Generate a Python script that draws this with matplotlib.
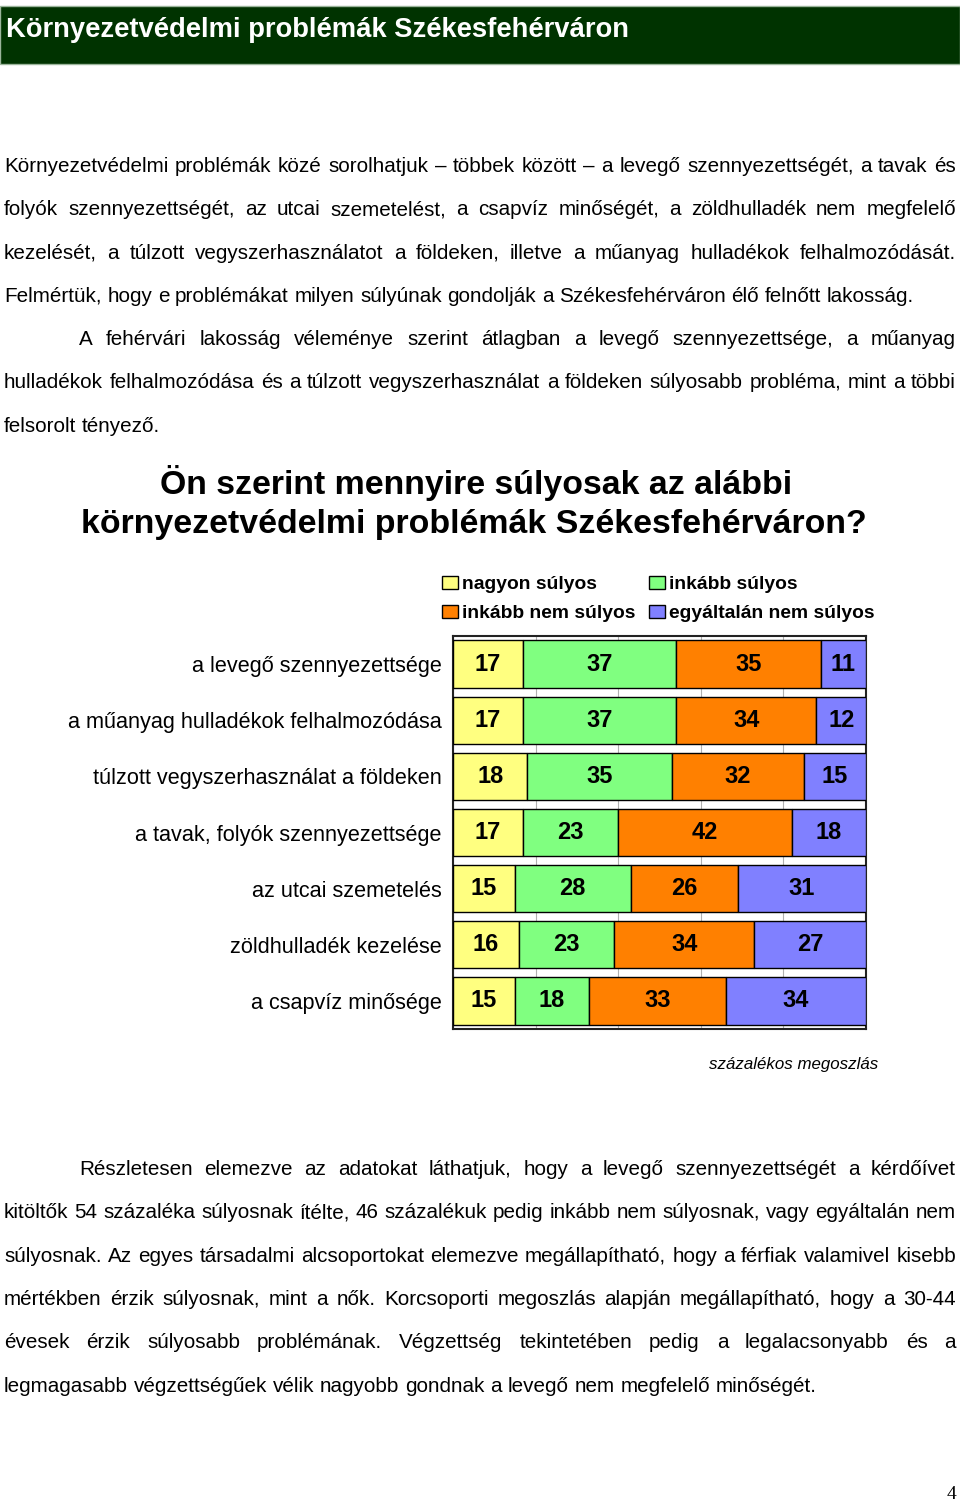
import matplotlib
matplotlib.use('Agg')
import matplotlib.pyplot as plt
from matplotlib import font_manager
from matplotlib.patches import Rectangle, Patch

W, H = 960, 1503

# chart data (percent)
cats = ['a levegő szennyezettsége',
        'a műanyag hulladékok felhalmozódása',
        'túlzott vegyszerhasználat a földeken',
        'a tavak, folyók szennyezettsége',
        'az utcai szemetelés',
        'zöldhulladék kezelése',
        'a csapvíz minősége']
nagyon = [17, 17, 18, 17, 15, 16, 15]
inkabb = [37, 37, 35, 23, 28, 23, 18]
inkabb_nem = [35, 34, 32, 42, 26, 34, 33]
egyaltalan = [11, 12, 15, 18, 31, 27, 34]
series_names = ['nagyon súlyos', 'inkább súlyos', 'inkább nem súlyos', 'egyáltalán nem súlyos']
colors = ['#FFFF80', '#80FF80', '#FF8000', '#8080FF']

header = 'Környezetvédelmi problémák Székesfehérváron'
chart_title = ['Ön szerint mennyire súlyosak az alábbi',
               'környezetvédelmi problémák Székesfehérváron?']

par1 = ['Környezetvédelmi problémák közé sorolhatjuk – többek között – a levegő szennyezettségét, a tavak és',
        'folyók szennyezettségét, az utcai szemetelést, a csapvíz minőségét, a zöldhulladék nem megfelelő',
        'kezelését, a túlzott vegyszerhasználatot a földeken, illetve a műanyag hulladékok felhalmozódását.',
        'Felmértük, hogy e problémákat milyen súlyúnak gondolják a Székesfehérváron élő felnőtt lakosság.']
par2 = ['A fehérvári lakosság véleménye szerint átlagban a levegő szennyezettsége, a műanyag',
        'hulladékok felhalmozódása és a túlzott vegyszerhasználat a földeken súlyosabb probléma, mint a többi',
        'felsorolt tényező.']
par3 = ['Részletesen elemezve az adatokat láthatjuk, hogy a levegő szennyezettségét a kérdőívet',
        'kitöltők 54 százaléka súlyosnak ítélte, 46 százalékuk pedig inkább nem súlyosnak, vagy egyáltalán nem',
        'súlyosnak. Az egyes társadalmi alcsoportokat elemezve megállapítható, hogy a férfiak valamivel kisebb',
        'mértékben érzik súlyosnak, mint a nők. Korcsoporti megoszlás alapján megállapítható, hogy a 30-44',
        'évesek érzik súlyosabb problémának. Végzettség tekintetében pedig a legalacsonyabb és a',
        'legmagasabb végzettségűek vélik nagyobb gondnak a levegő nem megfelelő minőségét.']


def has_font(name):
    try:
        font_manager.findfont(font_manager.FontProperties(family=name), fallback_to_default=False)
        return True
    except ValueError:
        return False

SANS = 'Liberation Sans'
NARROW = 'Liberation Sans Narrow' if has_font('Liberation Sans Narrow') else SANS
SERIF = 'Liberation Serif'

fig = plt.figure(figsize=(W / 100, H / 100), dpi=100)
rend = fig.canvas.get_renderer()


def fx(x):
    return x / W


def fy(y):
    return 1 - y / H


def text_w(s, **kw):
    t = fig.text(0, 0, s, **kw)
    w = t.get_window_extent(rend).width
    t.remove()
    return w


def fit_size(s, target, base=20, **kw):
    return base * target / text_w(s, fontsize=base, **kw)


def body_line(s, y, size, x0=4, x1=956, justify=True):
    words = s.split(' ')
    kw = dict(fontsize=size, family=NARROW)
    widths = [text_w(w_, **kw) for w_ in words]
    if justify and len(words) > 1:
        gap = (x1 - x0 - sum(widths)) / (len(words) - 1)
    else:
        gap = text_w('a a', **kw) - text_w('aa', **kw)
    x = x0
    for w_, wd in zip(words, widths):
        fig.text(fx(x), fy(y), w_, va='baseline', ha='left', color='black', **kw)
        x += wd + gap


# header bar
fig.add_artist(Rectangle((0, fy(64)), 1, (64 - 6) / H, transform=fig.transFigure,
                         facecolor='#003300', edgecolor='#9bb59b', lw=1))
hsize = min(22, fit_size(header, 622, family=NARROW, weight='bold'))
fig.text(fx(6), fy(37), header, color='white', fontsize=hsize, family=NARROW,
         weight='bold', va='baseline', ha='left')

# body text, size calibrated on the free-running last line
bsize = min(17.5, fit_size(par1[3], 908, family=NARROW))
step = 43.3
for i, line in enumerate(par1):
    body_line(line, 172 + i * step, bsize, justify=(i < len(par1) - 1))
for i, line in enumerate(par2):
    x0 = 79 if i == 0 else 4
    body_line(line, 172 + (4 + i) * step, bsize, x0=x0, justify=(i < len(par2) - 1))
for i, line in enumerate(par3):
    x0 = 79 if i == 0 else 4
    body_line(line, 1175 + i * step, bsize, x0=x0, justify=(i < len(par3) - 1))

# chart title
tsize = min(25, fit_size(chart_title[1], 784, family=NARROW, weight='bold'))
fig.text(fx(476), fy(494), chart_title[0], fontsize=tsize, family=NARROW, weight='bold',
         ha='center', va='baseline')
fig.text(fx(474), fy(533), chart_title[1], fontsize=tsize, family=NARROW, weight='bold',
         ha='center', va='baseline')

# stacked bars
ax = fig.add_axes([fx(453), fy(1029), (866 - 453) / W, (1029 - 636) / H])
ypos = list(range(len(cats)))
left = [0] * len(cats)
handles = []
for vals, name, col in zip([nagyon, inkabb, inkabb_nem, egyaltalan], series_names, colors):
    bars = ax.barh(ypos, vals, left=left, height=0.84, color=col, edgecolor='black',
                   linewidth=1.0, zorder=3)
    ax.bar_label(bars, labels=[str(v) for v in vals], label_type='center',
                 fontsize=17, fontweight='bold', family=SANS)
    handles.append(Patch(facecolor=col, edgecolor='black', linewidth=1.0, label=name))
    left = [l + v for l, v in zip(left, vals)]

ax.set_xlim(0, 100)
ax.set_ylim(len(cats) - 0.5, -0.5)
ax.set_xticks([0, 20, 40, 60, 80, 100])
ax.tick_params(axis='x', length=0, labelbottom=False)
ax.grid(axis='x', color='#b0b0b0', lw=0.8)
ax.set_axisbelow(True)
csize = min(16, fit_size(cats[1], 374, family=SANS))
ax.set_yticks(ypos)
ax.set_yticklabels(cats, fontsize=csize, family=SANS)
ax.tick_params(axis='y', length=0, pad=8)
for sp in ax.spines.values():
    sp.set_color('#222222')
    sp.set_linewidth(1.5)

# legend (filled column-wise)
order = [0, 2, 1, 3]
lsize = fit_size(series_names[3], 205, family=SANS, weight='bold')
fig.legend([handles[i] for i in order], [series_names[i] for i in order], ncol=2,
           loc='upper left', bbox_to_anchor=(fx(442), fy(576)), frameon=False,
           prop=dict(family=SANS, weight='bold', size=lsize),
           handlelength=0.85, handleheight=0.65, handletextpad=0.2,
           columnspacing=0.7, labelspacing=0.62, borderpad=0, borderaxespad=0)

nsize = fit_size('százalékos megoszlás', 168, family=SANS, style='italic')
fig.text(fx(878), fy(1069), 'százalékos megoszlás', fontsize=nsize, family=SANS,
         style='italic', ha='right', va='baseline')

fig.text(fx(956), fy(1499), '4', fontsize=14, family=SERIF, ha='right', va='baseline')

fig.savefig('out.png', dpi=100)
